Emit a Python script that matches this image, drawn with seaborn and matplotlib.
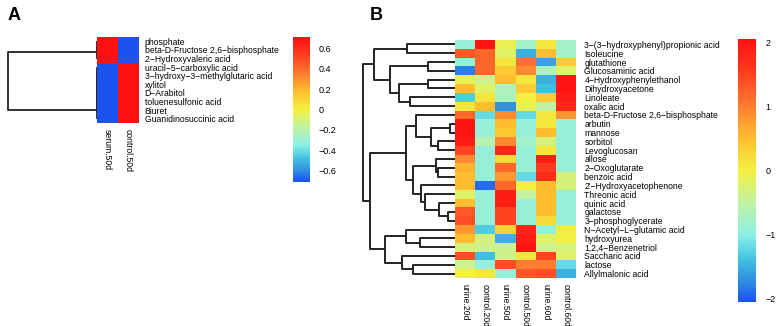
import numpy as np
import pandas as pd
import matplotlib
matplotlib.use("Agg")
import matplotlib.pyplot as plt
import seaborn as sns
from matplotlib.colors import LinearSegmentedColormap

# ---- panel A data ----
rows_a = ["phosphate", "beta-D-Fructose 2,6\u2212bisphosphate",
          "2\u2212Hydroxyvaleric acid", "uracil\u22125\u2212carboxylic acid",
          "3\u2212hydroxy\u22123\u2212methylglutaric acid", "xylitol",
          "D\u2212Arabitol", "toluenesulfonic acid", "Biuret",
          "Guanidinosuccinic acid"]
cols_a = ["serum.50d", "control.50d"]
serum_50d = [0.707, 0.707, 0.707, -0.707, -0.707, -0.707, -0.707, -0.707, -0.707, -0.707]
control_50d = [-0.707, -0.707, -0.707, 0.707, 0.707, 0.707, 0.707, 0.707, 0.707, 0.707]
# dendrogram merges (left id, right id, height); leaves 0..9
link_a_left = [0, 10, 3, 12, 13, 14, 15, 16, 11]
link_a_right = [1, 2, 4, 5, 6, 7, 8, 9, 17]
link_a_height = [0, 0, 0, 0, 0, 0, 0, 0, 1.0]

# ---- panel B data ----
rows_b = ["3\u2212(3\u2212hydroxyphenyl)propionic acid", "Isoleucine", "glutathione",
          "Glucosaminic acid", "4\u2212Hydroxyphenylethanol", "Dihydroxyacetone",
          "Linoleate", "oxalic acid", "beta-D-Fructose 2,6\u2212bisphosphate",
          "arbutin", "mannose", "sorbitol", "Levoglucosan", "allose",
          "2\u2212Oxoglutarate", "benzoic acid", "2'\u2212Hydroxyacetophenone",
          "Threonic acid", "quinic acid", "galactose", "3\u2212phosphoglycerate",
          "N\u2212Acetyl\u2212L\u2212glutamic acid", "hydroxyurea",
          "1,2,4\u2212Benzenetriol", "Saccharic acid", "lactose",
          "Allylmalonic acid"]
cols_b = ["urine.20d", "control.20d", "urine.50d", "control.50d", "urine.60d", "control.60d"]
urine_20d = [-0.9, 1.3, -0.9, -1.8, -0.1, 0.5, -1.3, 0.1, 1.2, 2.0, 2.0, 1.9, 1.5, 0.9,
             0.6, 0.5, 0.5, -0.2, 0.5, 1.3, 1.4, 0.8, 0.5, -0.3, 1.4, -0.4, 0.0]
control_20d = [2.0, 1.2, 1.2, 1.2, -0.4, -0.2, 0.1, 0.5, -1.2, -0.9, -0.9, -0.6, -0.9, -0.9,
               -0.9, -0.9, -1.9, -0.9, -0.9, -0.9, -0.9, -1.3, -0.3, -0.4, -1.4, -0.9, 0.1]
urine_50d = [-0.1, -0.2, 0.1, 0.4, 0.5, -0.7, -0.7, -1.7, 0.9, 0.5, 0.4, 0.9, 1.8, 0.2,
             1.2, 0.8, 1.2, 1.9, 1.9, 1.5, 1.5, 0.3, -1.5, -0.4, -0.4, 1.4, -0.9]
control_50d_b = [-0.8, -1.5, 1.1, 0.9, 0.1, 0.4, 0.0, -0.1, -1.2, -0.9, -0.9, -0.8, -0.9, -0.9,
                 -0.9, -1.2, 0.0, -0.5, -0.9, -0.9, -0.9, 1.8, 1.9, 2.0, 0.1, 1.0, 1.3]
urine_60d = [0.1, 0.5, -1.6, -0.7, -1.5, -1.4, 0.4, -0.5, 0.1, 0.1, 0.5, -0.3, 0.1, 1.9,
             1.6, 1.7, 0.5, 0.5, 0.5, 0.5, 0.2, -0.9, -0.2, -0.4, 1.5, 1.0, 1.4]
control_60d = [-0.8, -0.8, 0.4, -0.2, 2.0, 2.0, 1.9, 1.8, 0.8, -0.9, -0.9, -0.9, -0.9, -0.9,
               -0.9, -0.3, -0.3, -0.9, -0.9, -0.9, -0.9, 0.0, 0.0, -0.3, -0.2, -1.2, -1.5]
# dendrogram merges (left id, right id, height); leaves 0..26, merge k -> id 27+k
link_b_left = [0, 2, 4, 6, 29, 28, 27, 9, 11, 34, 8, 14, 13, 19, 18, 17, 16, 39, 37,
               22, 21, 25, 24, 47, 45, 33]
link_b_right = [1, 3, 5, 7, 30, 31, 32, 10, 12, 35, 36, 15, 38, 20, 40, 41, 42, 43, 44,
                23, 46, 26, 48, 49, 50, 51]
link_b_height = [144, 82, 82, 134, 169, 195, 245, 14, 52, 72, 117, 50, 57, 22, 47, 90,
                 102, 127, 149, 104, 149, 125, 159, 212, 255, 277]

W, H = 776, 326


def rect(x0, y0, x1, y1):
    return [x0 / W, 1 - y1 / H, (x1 - x0) / W, (y1 - y0) / H]


def draw_dendrogram(ax, n_leaves, left, right, height, lw):
    pos = {i: i + 0.5 for i in range(n_leaves)}
    hgt = {i: 0.0 for i in range(n_leaves)}
    for k, (a, b, h) in enumerate(zip(left, right, height)):
        nid = n_leaves + k
        ax.plot([hgt[a], h, h, hgt[b]], [pos[a], pos[a], pos[b], pos[b]],
                color="#222222", lw=lw, solid_capstyle="butt", clip_on=False)
        pos[nid] = (pos[a] + pos[b]) / 2
        hgt[nid] = h
    ax.set_xlim(max(height), 0)
    ax.set_ylim(n_leaves, 0)
    ax.axis("off")


cmap = LinearSegmentedColormap.from_list("rb", [
    (0.00, "#1a50f0"), (0.08, "#3090e0"), (0.16, "#40c0e0"), (0.25, "#88f0e6"),
    (0.37, "#c0f2a8"), (0.50, "#f2f040"), (0.62, "#ffc030"), (0.75, "#ff7a30"),
    (0.87, "#ff4020"), (1.00, "#ff1010")])

plt.rcParams["font.family"] = ["Liberation Sans", "DejaVu Sans"]
fig = plt.figure(figsize=(W / 100, H / 100), dpi=100)

# ---- panel A ----
df_a = pd.DataFrame({"serum.50d": serum_50d, "control.50d": control_50d}, index=rows_a)
ax_da = fig.add_axes(rect(8, 37, 97, 123))
draw_dendrogram(ax_da, len(rows_a), link_a_left, link_a_right, link_a_height, 1.3)
ax_a = fig.add_axes(rect(97, 37, 139, 123))
cax_a = fig.add_axes(rect(293, 37, 310, 182))
sns.heatmap(df_a, cmap=cmap, vmin=-0.713, vmax=0.713, ax=ax_a, cbar_ax=cax_a,
            xticklabels=cols_a, yticklabels=rows_a)
ax_a.yaxis.tick_right()
ax_a.tick_params(length=0, labelsize=6.2, pad=4)
ax_a.set_yticklabels(rows_a, rotation=0, ha="left")
ax_a.set_xticklabels(cols_a, rotation=-90, va="top")
ax_a.set_xlabel("")
ax_a.set_ylabel("")
cb_a = ax_a.collections[0].colorbar
cb_a.outline.set_visible(False)
ticks_a = [-0.6, -0.4, -0.2, 0, 0.2, 0.4, 0.6]
cb_a.set_ticks(ticks_a, labels=["\u22120.6", "\u22120.4", "\u22120.2", "0", "0.2", "0.4", "0.6"])
cax_a.tick_params(length=0, labelsize=6.5, pad=6)
fig.text(8 / W, 1 - 20 / H, "A", fontsize=13, fontweight="bold")

# ---- panel B ----
df_b = pd.DataFrame({"urine.20d": urine_20d, "control.20d": control_20d,
                     "urine.50d": urine_50d, "control.50d": control_50d_b,
                     "urine.60d": urine_60d, "control.60d": control_60d}, index=rows_b)
ax_db = fig.add_axes(rect(363, 40, 455, 278))
draw_dendrogram(ax_db, len(rows_b), link_b_left, link_b_right, link_b_height, 1.4)
ax_b = fig.add_axes(rect(455, 40, 576, 278))
cax_b = fig.add_axes(rect(738, 39, 756, 302))
sns.heatmap(df_b, cmap=cmap, vmin=-2.05, vmax=2.05, ax=ax_b, cbar_ax=cax_b,
            xticklabels=cols_b, yticklabels=rows_b)
ax_b.yaxis.tick_right()
ax_b.tick_params(length=0, labelsize=6.2, pad=6)
ax_b.set_yticklabels(rows_b, rotation=0, ha="left")
ax_b.set_xticklabels(cols_b, rotation=-90, va="top")
ax_b.tick_params(axis="x", pad=4)
ax_b.set_xlabel("")
ax_b.set_ylabel("")
cb_b = ax_b.collections[0].colorbar
cb_b.outline.set_visible(False)
cb_b.set_ticks([-2, -1, 0, 1, 2], labels=["\u22122", "\u22121", "0", "1", "2"])
cax_b.tick_params(length=0, labelsize=6.5, pad=7)
fig.text(370 / W, 1 - 20 / H, "B", fontsize=13, fontweight="bold")

fig.savefig("out.png", dpi=100)
